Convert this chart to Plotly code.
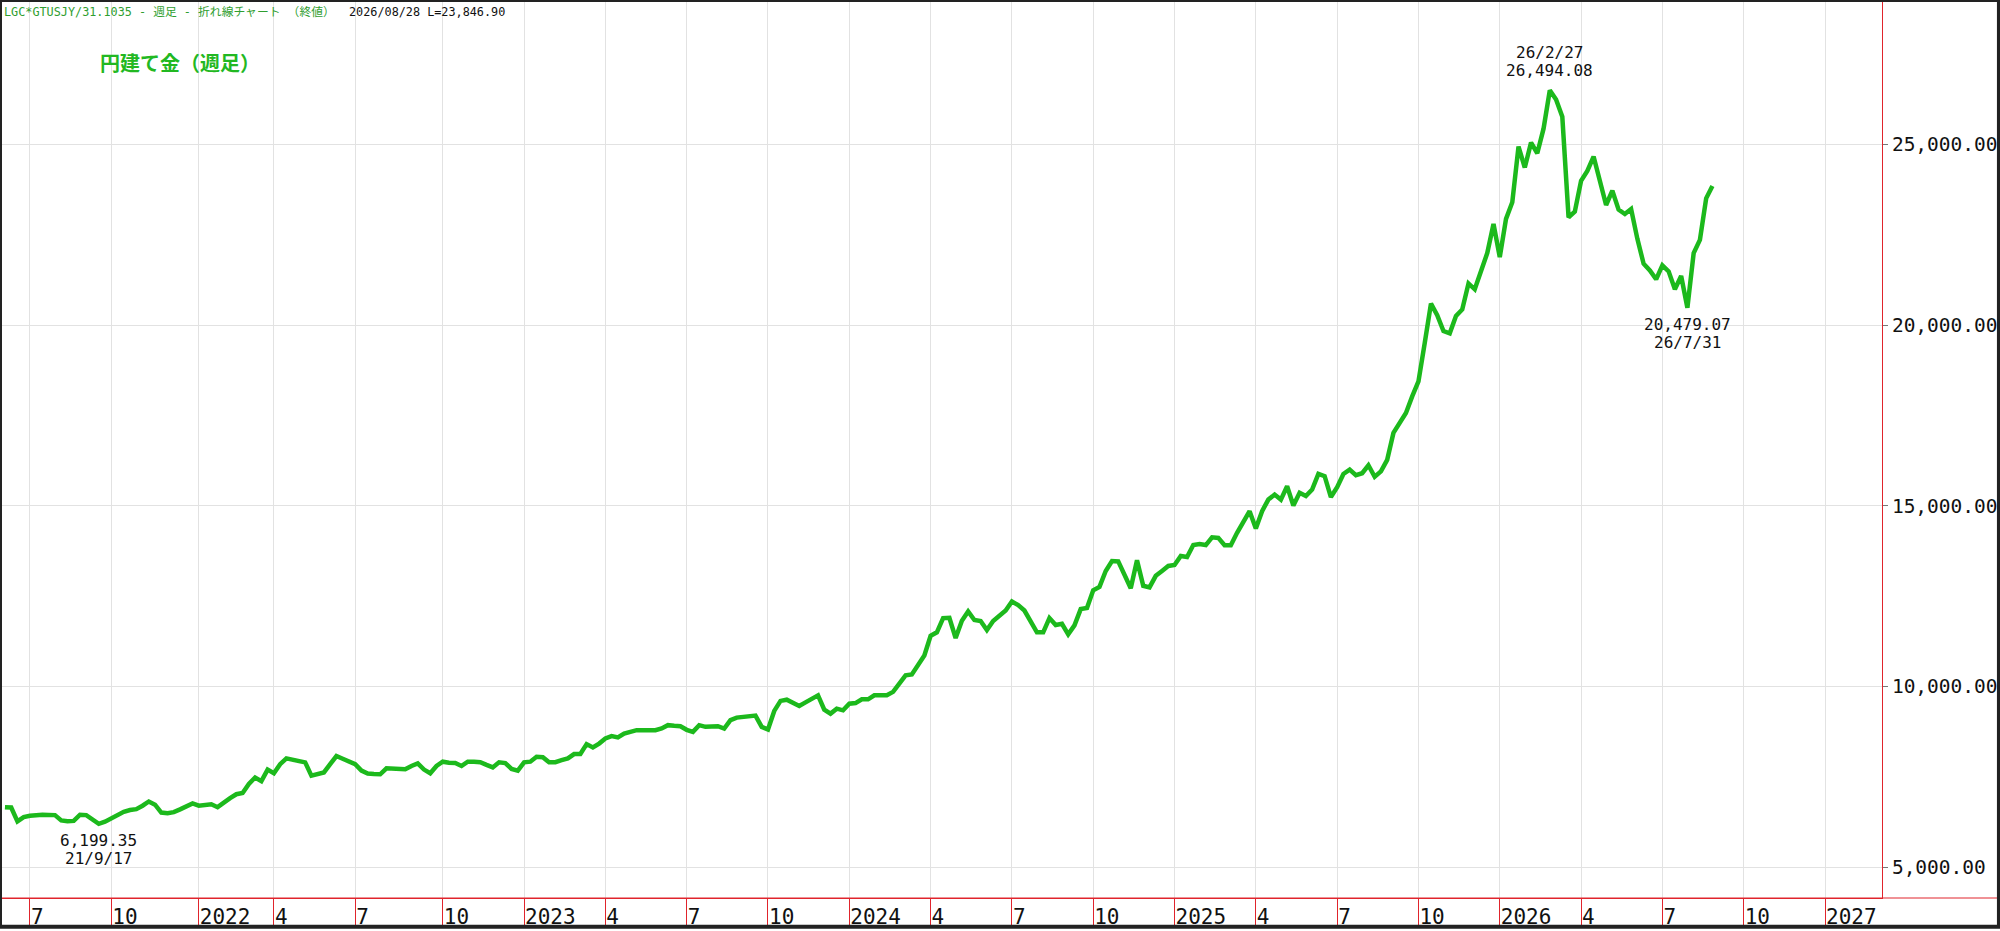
import pandas as pd
import plotly.graph_objects as go

# weekly closes (Fridays), JPY per gram
close_2021 = [6660, 6650, 6266, 6385, 6420, 6450, 6450, 6445, 6440, 6294, 6270,
              6280, 6450, 6440, 6330, 6199.35, 6260, 6357, 6440, 6530, 6580, 6605,
              6700, 6817, 6728, 6510, 6495, 6523, 6600, 6700, 6765]
close_2022 = [6700, 6720, 6740, 6660, 6800, 6908, 7018, 7050, 7300, 7480, 7380,
              7700, 7600, 7850, 8009, 7982, 7950, 7900, 7533, 7580, 7620, 7850,
              8075, 8000, 7920, 7850, 7671, 7590, 7578, 7570, 7734, 7730, 7720,
              7707, 7800, 7872, 7700, 7597, 7800, 7918, 7890, 7880, 7800, 7918,
              7915, 7905, 7830, 7761, 7900, 7880, 7720, 7671]
close_2023 = [7900, 7918, 8056, 8040, 7900, 7905, 7960, 8009, 8130, 8130, 8405,
              8313, 8420, 8560, 8626, 8590, 8698, 8745, 8790, 8790, 8790, 8790,
              8840, 8929, 8910, 8900, 8800, 8745, 8929, 8882, 8890, 8900, 8836,
              9066, 9138, 9150, 9157, 9193, 8882, 8808, 9323, 9600, 9634, 9560,
              9460, 9560, 9650, 9755, 9358, 9248, 9385, 9340]
close_2024 = [9524, 9540, 9645, 9645, 9755, 9755, 9755, 9850, 10100, 10306, 10330,
              10580, 10855, 11400, 11498, 11892, 11900, 11340, 11820, 12076, 11838,
              11810, 11560, 11810, 11950, 12100, 12350, 12250, 12100, 11820, 11498,
              11498, 11892, 11700, 11735, 11440, 11690, 12140, 12170, 12660, 12755,
              13195, 13470, 13460, 13122, 12718, 13490, 12785, 12740, 13060, 13195,
              13333]
close_2025 = [13360, 13608, 13580, 13912, 13940, 13912, 14125, 14110, 13905, 13905,
              14250, 14525, 14850, 14370, 14850, 15170, 15308, 15170, 15540, 15005,
              15360, 15270, 15450, 15880, 15817, 15240, 15515, 15880, 16000, 15845,
              15900, 16120, 15800, 15950, 16270, 17016, 17291, 17566, 18025, 18438,
              19500, 20590, 20272, 19832, 19770, 20250, 20430, 21150, 20988, 21450,
              21990, 22797]
close_2026 = [21880, 22935, 23395, 24937, 24358, 25046, 24752, 25432, 26494.08,
              26239, 25762, 22982, 23136, 23990, 24265, 24661, 24036, 23320, 23714,
              23191, 23072, 23210, 22384, 21696, 21512, 21264, 21650, 21484, 20988,
              21357, 20479.07, 21988, 22354, 23505, 23846.90]

y_ticks = [5000, 10000, 15000, 20000, 25000]

close = close_2021 + close_2022 + close_2023 + close_2024 + close_2025 + close_2026
dates = pd.date_range("2021-06-04", periods=len(close), freq="7D")
df = pd.DataFrame({"date": dates, "close": close})

# first Friday of each quarter -> axis ticks
fridays = pd.date_range("2021-06-04", "2027-03-05", freq="W-FRI")
qticks = [d for d in fridays if d.month in (1, 4, 7, 10) and d.day <= 7]
qlabels = [str(d.year) if d.month == 1 else str(d.month) for d in qticks]

GREEN = "#1cb91c"
RED = "#e0242c"
GRID = "#e2e2e2"
MONO = "DejaVu Sans Mono, Liberation Mono, monospace"

W, H = 2000, 931
ML, MR, MT, MB = 2, 117, 2, 29
PW, PH = W - ML - MR, H - MT - MB

fig = go.Figure()
fig.add_trace(go.Scatter(x=df["date"], y=df["close"], mode="lines",
                         line=dict(color=GREEN, width=4.5), hoverinfo="skip"))

# high / low labels
i_max = df["close"].idxmax()
i_min = df["close"].idxmin()
i_low = df.loc[i_max:, "close"].idxmin()


def dlabel(d):
    return f"{d.year % 100}/{d.month}/{d.day}"


def mark(i, above):
    d, v = df.loc[i, "date"], df.loc[i, "close"]
    lines = [dlabel(d), f"{v:,.2f}"] if above else [f"{v:,.2f}", dlabel(d)]
    shifts = [38, 20] if above else [-17, -35]
    for txt, s in zip(lines, shifts):
        fig.add_annotation(x=d, y=v, text=txt, showarrow=False, yshift=s,
                           font=dict(family=MONO, size=16, color="#111"))


mark(i_max, True)
mark(i_low, False)
mark(i_min, False)

last = df.iloc[-1]
header = (f'<span style="color:#2f9e2f">LGC*GTUSJY/31.1035 - 週足 - 折れ線チャート （終値）</span>'
          f'  {last["date"]:%Y/%m/%d} L={last["close"]:,.2f}')
fig.add_annotation(xref="paper", yref="paper", x=0, y=(PH + MT - 12) / PH,
                   xanchor="left", yanchor="middle", showarrow=False, text=header,
                   font=dict(family="DejaVu Sans Mono, Noto Sans CJK JP", size=11.8, color="#111"))
fig.add_annotation(xref="paper", yref="paper", x=96 / PW, y=(PH + MT - 63) / PH,
                   xanchor="left", yanchor="middle", showarrow=False,
                   text="<b>円建て金（週足）</b>",
                   font=dict(family="Noto Sans CJK JP", size=20, color="#22b822"))

# bottom red rule across full width and outer frame
fig.add_shape(type="line", xref="paper", yref="paper", x0=-ML / PW, x1=(W - ML) / PW,
              y0=0, y1=0, line=dict(color=RED, width=1))
fig.add_shape(type="rect", xref="paper", yref="paper", x0=-ML / PW,
              x1=(W - ML) / PW, y0=-MB / PH, y1=(PH + MT) / PH,
              line=dict(color="#222", width=4))

fig.update_xaxes(type="date", range=["2021-05-31 17:00", "2027-03-05 19:00"],
                 tickvals=qticks, ticktext=qlabels, showgrid=True, gridcolor=GRID,
                 gridwidth=1, ticks="outside", ticklen=MB, tickcolor=RED, tickwidth=1,
                 ticklabelposition="outside right",
                 tickfont=dict(family=MONO, size=21, color="#111"),
                 showline=True, linecolor=RED, linewidth=1, zeroline=False)
fig.update_yaxes(side="right", range=[4147, 28937], tickvals=y_ticks,
                 ticktext=[f"{v:,.2f}" for v in y_ticks], showgrid=True, gridcolor=GRID,
                 gridwidth=1, ticks="outside", ticklen=5, tickcolor="#777",
                 tickfont=dict(family=MONO, size=19.5, color="#111"),
                 showline=True, linecolor=RED, linewidth=1, zeroline=False)
fig.update_layout(width=W, height=H, margin=dict(l=ML, r=MR, t=MT, b=MB, pad=0),
                  plot_bgcolor="white", paper_bgcolor="white", showlegend=False,
                  hovermode=False)

fig.write_html("out.html", config={"displayModeBar": False},
               post_script="document.body.style.margin='0';")
